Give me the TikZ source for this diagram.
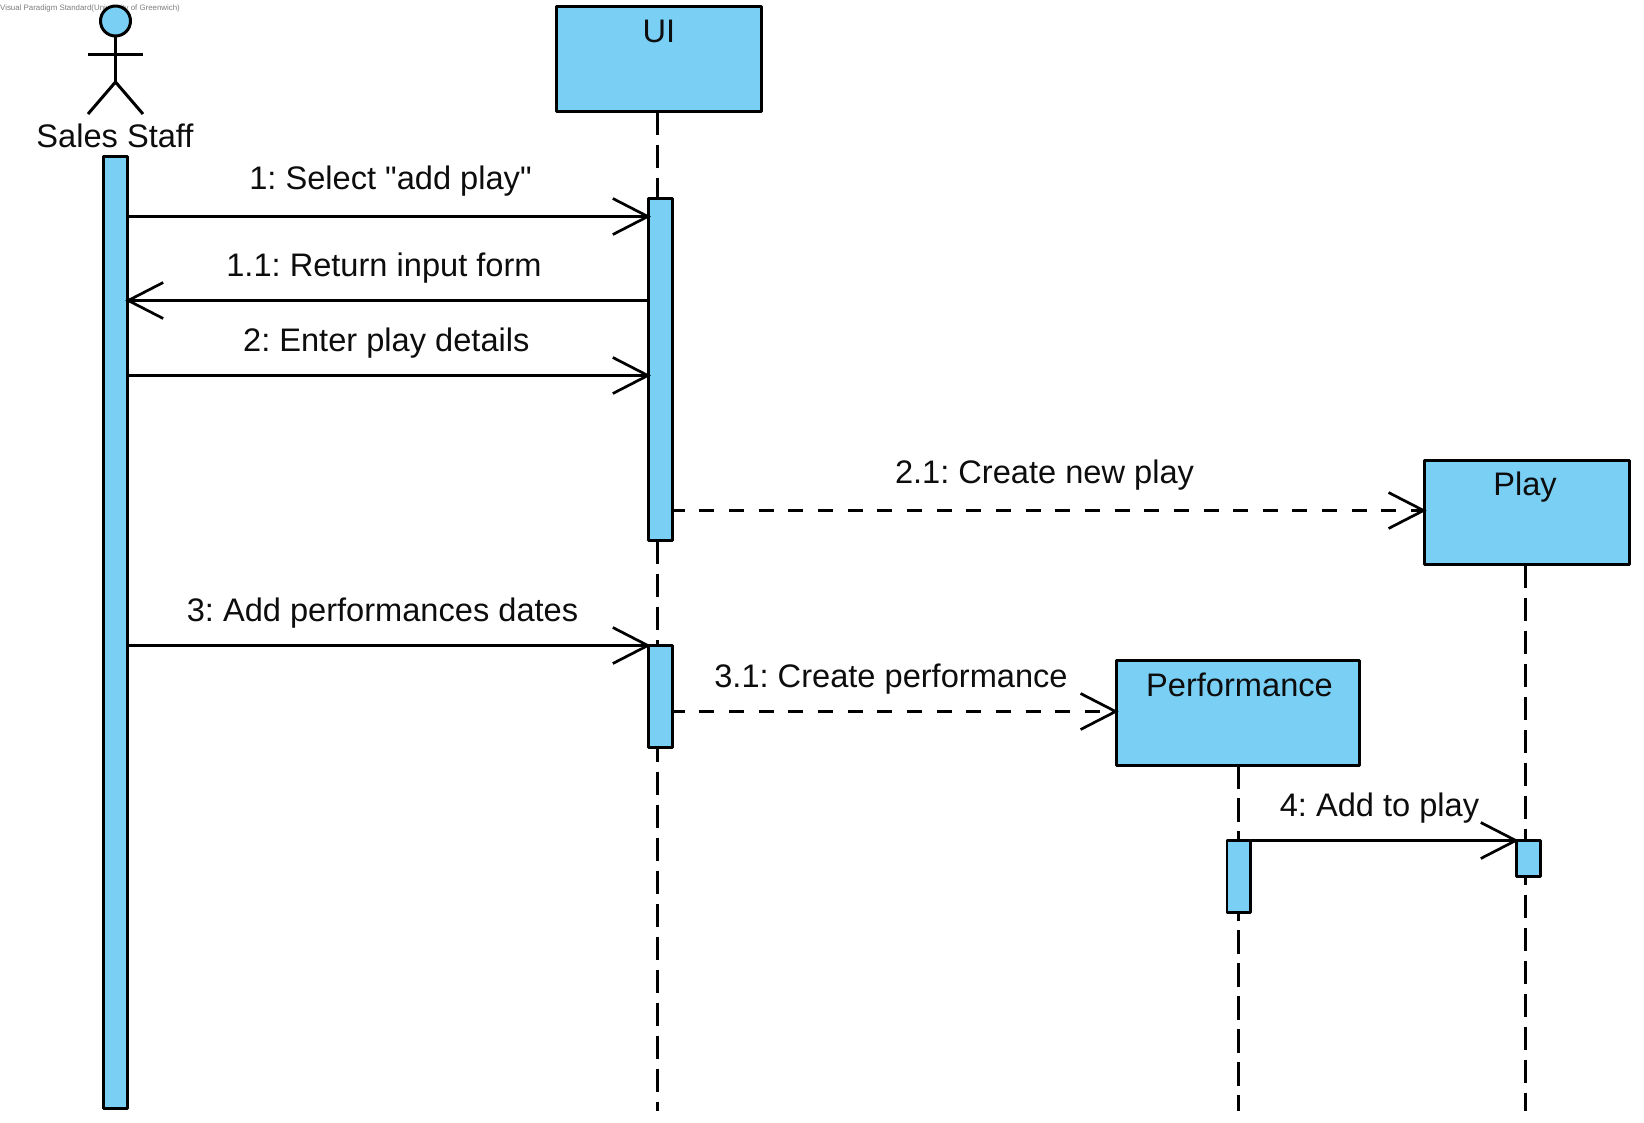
\documentclass[tikz,border=0pt]{standalone}
\usepackage{fontspec}
\newfontfamily\arialfont{Liberation Sans}
\usetikzlibrary{arrows.meta,calc}
\definecolor{umlblue}{RGB}{122,207,245}
\definecolor{wmgrey}{RGB}{125,125,125}
\tikzset{
  umlline/.style={line width=2.7pt,line join=round},
  actorline/.style={line width=3pt,line join=round},
  objbox/.style={umlline,draw=black,fill=umlblue,rectangle,inner sep=0pt,outer sep=0pt},
  lifeline/.style={umlline,dash pattern=on 23.5pt off 9.5pt},
  msg/.style={umlline,shorten >=-2pt,-{Straight Barb[length=35pt,width=36pt,line width=2.7pt,line join=miter]}},
  msgdash/.style={msg,dash pattern=on 15pt off 14.65pt,dash phase=3pt},
  lbl/.style={font=\fontsize{32.6pt}{36pt}\arialfont\frenchspacing,inner sep=0pt,outer sep=0pt,anchor=base,text=black!95},
}
\begin{document}
\begin{tikzpicture}[x=1pt,y=-1pt]
\useasboundingbox (0,0) rectangle (1644,1122);
\node[font=\fontsize{7.87pt}{10pt}\arialfont,text=wmgrey,inner sep=0pt,anchor=base west] (wm) at (0,10) {Visual Paradigm Standard(University of Greenwich)};

% lifeline ends
\coordinate (uiend) at (657.5,1111);
\coordinate (perfend) at (1238.5,1111);
\coordinate (playend) at (1525.5,1111);

% objects
\node[objbox,minimum width=205pt,minimum height=105pt] (ui) at (659,59) {};
\node[lbl] (uilabel) at (659,42) {UI};
\node[objbox,minimum width=205pt,minimum height=104pt] (play) at (1527,512.5) {};
\node[lbl] (playlabel) at (1525,495.5) {Play};
\node[objbox,minimum width=242.7pt,minimum height=104.5pt] (perf) at (1237.9,713) {};
\node[lbl] (perflabel) at (1239.5,696) {Performance};

% lifelines
\draw[lifeline] (ui.south -| uiend) -- (uiend);
\draw[lifeline] (play.south -| playend) -- (playend);
\draw[lifeline] (perf.south -| perfend) -- (perfend);

% actor
\node[actorline,draw=black,fill=umlblue,circle,minimum size=30pt,inner sep=0pt,outer sep=0pt] (head) at (115.5,21) {};
\coordinate (hip) at (115.5,82);
\coordinate (armL) at (88,54);
\coordinate (armR) at (143,54);
\coordinate (legL) at (88,114);
\coordinate (legR) at (143,114);
\draw[actorline] (head.south) -- (hip);
\draw[actorline] (armL) -- (armR);
\draw[actorline] (legL) -- (hip) -- (legR);
\node[lbl] (actorlabel) at (115,147) {Sales Staff};

% activation bars
\node[objbox,minimum width=23.5pt,minimum height=952pt] (staffbar) at (115.5,632.5) {};
\node[objbox,minimum width=24pt,minimum height=342pt] (uibar1) at (660.8,369.5) {};
\node[objbox,minimum width=24pt,minimum height=102pt] (uibar2) at (660.8,696.5) {};
\node[objbox,minimum width=23.5pt,minimum height=72pt] (perfbar) at (1238.8,876.5) {};
\node[objbox,minimum width=23.5pt,minimum height=36pt] (playbar) at (1528.5,858.5) {};

% message levels
\coordinate (m1) at (0,216.5);
\coordinate (m11) at (0,300.5);
\coordinate (m2) at (0,375.5);
\coordinate (m21) at (0,510.5);
\coordinate (m3) at (0,645.5);
\coordinate (m31) at (0,711.5);
\coordinate (m4) at (0,840.5);

% messages
\draw[msg] (staffbar.east |- m1) -- (uibar1.west |- m1);
\draw[msg] (uibar1.west |- m11) -- (staffbar.east |- m11);
\draw[msg] (staffbar.east |- m2) -- (uibar1.west |- m2);
\draw[msgdash] (uibar1.east |- m21) -- (play.west |- m21);
\draw[msg] (staffbar.east |- m3) -- (uibar2.west |- m3);
\draw[msgdash] (uibar2.east |- m31) -- (perf.west |- m31);
\draw[msg] (perfbar.east |- m4) -- (playbar.west |- m4);

% labels
\node[lbl] (l1) at (390.5,189) {1: Select "add play"};
\node[lbl] (l11) at (384,276) {1.1: Return input form};
\node[lbl] (l2) at (386.3,351) {2: Enter play details};
\node[lbl] (l21) at (1044.5,483) {2.1: Create new play};
\node[lbl] (l3) at (382.5,621) {3: Add performances dates};
\node[lbl] (l31) at (891,687) {3.1: Create performance};
\node[lbl] (l4) at (1379.5,816) {4: Add to play};
\end{tikzpicture}
\end{document}
